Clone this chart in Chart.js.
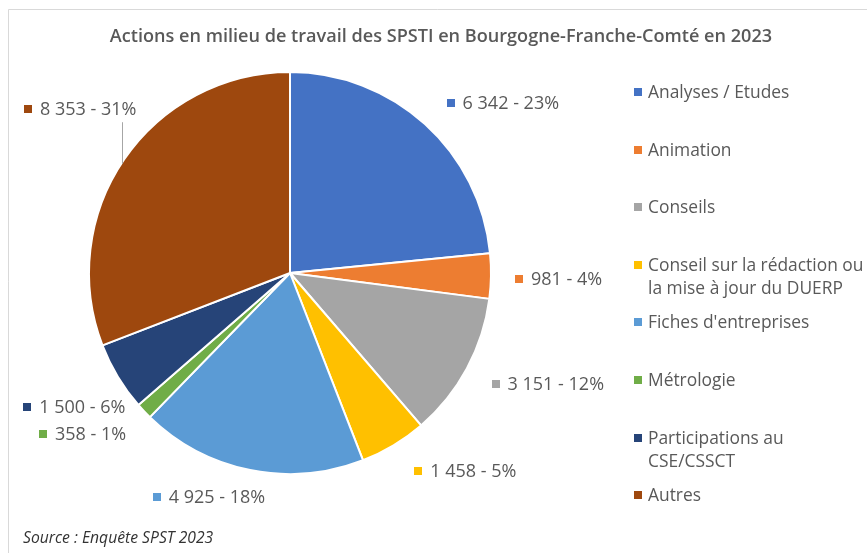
<!DOCTYPE html>
<html>
<head>
<meta charset="utf-8">
<script src="https://cdn.jsdelivr.net/npm/chart.js@4"></script>
<style>
  html, body { margin: 0; padding: 0; background: #fff; }
  #wrap { position: relative; width: 867px; height: 553px; }
</style>
</head>
<body>
<div id="wrap"><canvas id="myPieChart" width="867" height="553"></canvas></div>
<script>
// donnees
const categories = ['Analyses / Etudes', 'Animation', 'Conseils',
  'Conseil sur la rédaction ou la mise à jour du DUERP', "Fiches d'entreprises",
  'Métrologie', 'Participations au CSE/CSSCT', 'Autres'];
const legendLines = [['Analyses / Etudes'], ['Animation'], ['Conseils'],
  ['Conseil sur la rédaction ou', 'la mise à jour du DUERP'], ["Fiches d'entreprises"],
  ['Métrologie'], ['Participations au', 'CSE/CSSCT'], ['Autres']];
const actionCounts = [6342, 981, 3151, 1458, 4925, 358, 1500, 8353];
const colors = ['#4472C4', '#ED7D31', '#A5A5A5', '#FFC000', '#5B9BD5', '#70AD47', '#264478', '#9E480E'];

// petits decalages des etiquettes (style "meilleur ajustement" d'Excel)
const labelNudge = [[20, 8], [-6, 2], [5, -3], [30, -8], [-24, -11], [-8, -4], [26, 10], [27, -28]];

const textColor = '#595959';
const labelFont = '18px "Open Sans"';
const legendFont = '17.4px "Open Sans"';

function formatNumber(v) {
    return String(v).replace(/\B(?=(\d{3})+(?!\d))/g, ' ');
}

const total = actionCounts.reduce(function (t, v) { return t + v; }, 0);

const decorPlugin = {
    id: 'decor',
    beforeDraw: function (chart) {
        const ctx = chart.ctx;
        ctx.save();
        ctx.fillStyle = '#fff';
        ctx.fillRect(0, 0, chart.width, chart.height);
        // cadre
        ctx.strokeStyle = '#D9D9D9';
        ctx.lineWidth = 1;
        ctx.beginPath();
        ctx.moveTo(8.5, chart.height);
        ctx.lineTo(8.5, 9.5);
        ctx.lineTo(chart.width, 9.5);
        ctx.stroke();
        // titre
        ctx.fillStyle = textColor;
        ctx.font = '600 18.1px "Open Sans"';
        ctx.textAlign = 'center';
        ctx.textBaseline = 'middle';
        ctx.fillText('Actions en milieu de travail des SPSTI en Bourgogne-Franche-Comté en 2023', 441, 37);
        // source
        ctx.fillStyle = '#333';
        ctx.font = 'italic 15.7px "Open Sans"';
        ctx.textAlign = 'left';
        ctx.fillText('Source : Enquête SPST 2023', 23, 539);
        ctx.restore();
    },
    afterDatasetsDraw: function (chart) {
        const ctx = chart.ctx;
        const arcs = chart.getDatasetMeta(0).data;
        ctx.save();
        ctx.font = labelFont;
        ctx.textBaseline = 'middle';
        ctx.textAlign = 'left';
        arcs.forEach(function (arc, i) {
            const p = arc.getProps(['x', 'y', 'startAngle', 'endAngle', 'outerRadius'], true);
            const a = (p.startAngle + p.endAngle) / 2;
            const text = formatNumber(actionCounts[i]) + ' - ' + Math.round(actionCounts[i] / total * 100) + '%';
            const w = 16 + ctx.measureText(text).width;
            const h = 18;
            const r = p.outerRadius + 30;
            const cx = p.x + Math.cos(a) * r + Math.cos(a) * w / 2 + labelNudge[i][0];
            const cy = p.y + Math.sin(a) * r + Math.sin(a) * h / 2 + labelNudge[i][1];
            const left = cx - w / 2;
            ctx.fillStyle = colors[i];
            ctx.fillRect(Math.round(left), Math.round(cy - 4), 8, 8);
            ctx.fillStyle = textColor;
            ctx.fillText(text, left + 16, cy + 1);
            // ligne de rappel pour "Autres"
            if (i === 7) {
                const lx = Math.round(left + w - 14) + 0.5;
                const dx = lx - p.x;
                const ly = p.y - Math.sqrt(p.outerRadius * p.outerRadius - dx * dx);
                ctx.strokeStyle = '#A6A6A6';
                ctx.lineWidth = 1;
                ctx.beginPath();
                ctx.moveTo(lx, cy + 13);
                ctx.lineTo(lx, ly + 2);
                ctx.stroke();
            }
        });
        // legende
        ctx.font = legendFont;
        legendLines.forEach(function (lines, i) {
            const y = 92 + i * 57.6;
            ctx.fillStyle = colors[i];
            ctx.fillRect(634, Math.round(y - 4), 8, 8);
            ctx.fillStyle = textColor;
            lines.forEach(function (line, k) {
                ctx.fillText(line, 648, y + 1 + k * 23);
            });
        });
        ctx.restore();
    }
};

new Chart(document.getElementById('myPieChart'), {
    type: 'pie',
    data: {
        labels: categories,
        datasets: [{
            data: actionCounts,
            backgroundColor: colors,
            borderColor: '#fff',
            borderWidth: 2
        }]
    },
    options: {
        responsive: false,
        animation: false,
        layout: { padding: { left: 88, right: 375, top: 71, bottom: 78 } },
        plugins: {
            legend: { display: false },
            tooltip: { enabled: false }
        }
    },
    plugins: [decorPlugin]
});
</script>
</body>
</html>
